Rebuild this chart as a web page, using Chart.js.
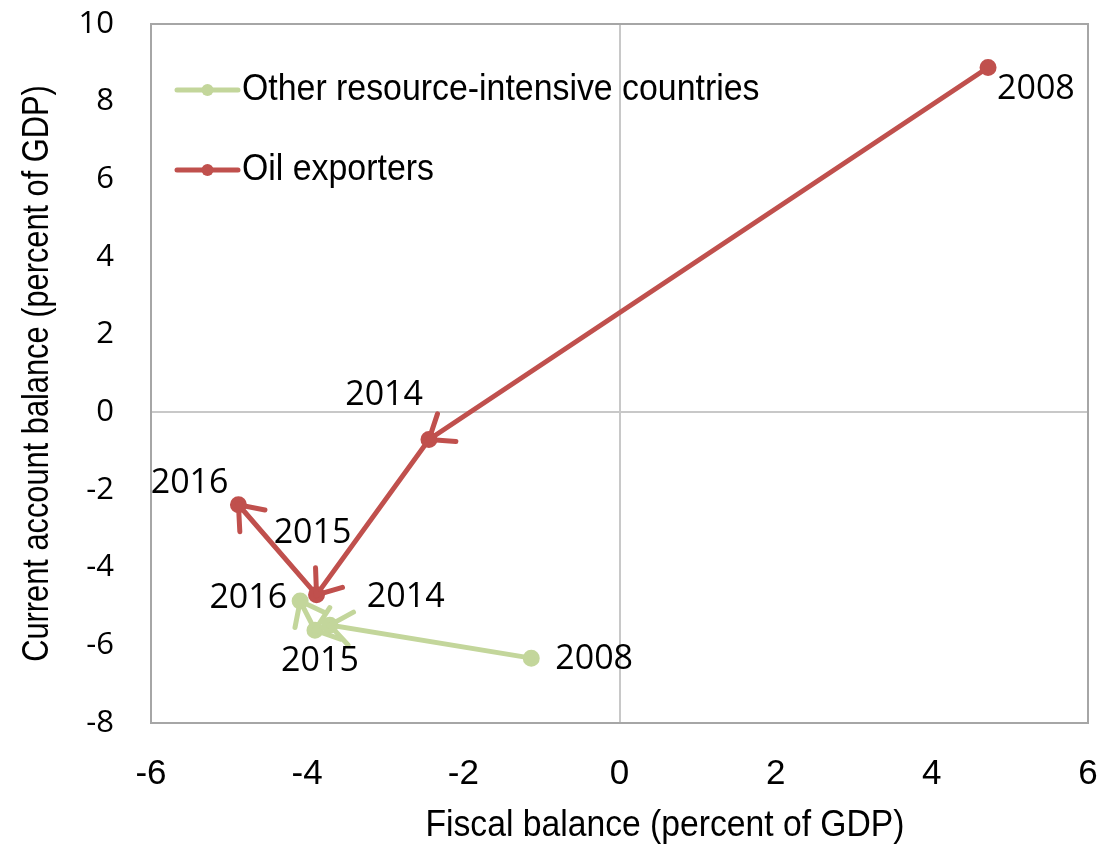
<!DOCTYPE html>
<html>
<head>
<meta charset="utf-8">
<title>Fiscal and current account balances</title>
<script src="https://cdn.jsdelivr.net/npm/chart.js@4/dist/chart.umd.min.js"></script>
<style>
  html, body { margin: 0; padding: 0; background: #ffffff; }
  #wrap { width: 1099px; height: 845px; }
</style>
</head>
<body>
<div id="wrap"><canvas id="chart" width="1099" height="845"></canvas></div>
<script>
// Years shown along each path
const years = ['2008', '2014', '2015', '2016'];

// Oil exporters: fiscal balance (x) and current account balance (y), percent of GDP
const oilFiscal  = [4.72, -2.44, -3.88, -4.88];
const oilCurrent = [8.88, -0.70, -4.70, -2.38];

// Other resource-intensive countries
const otherFiscal  = [-1.13, -3.71, -3.90, -4.09];
const otherCurrent = [-6.33, -5.48, -5.61, -4.86];

// Axis ticks
const xTickValues = [-6, -4, -2, 0, 2, 4, 6];
const yTickValues = [-8, -6, -4, -2, 0, 2, 4, 6, 8, 10];

// Series names and colours
const seriesNames = ['Other resource-intensive countries', 'Oil exporters'];
const seriesColors = ['#c3d69b', '#c0504d'];

// Year-label placement around each point: [dx, dy, align]
const otherLabelPlacement = [[24, 1, 'left'], [37, -28, 'left'], [5, 31, 'center'], [-13, -3, 'right']];
const oilLabelPlacement   = [[9, 22, 'left'], [-6, -44, 'right'], [-4, -62, 'center'], [-10, -21, 'right']];

const toPoints = (xs, ys) => xs.map((x, i) => ({ x: x, y: ys[i] }));

const SANS = '"Liberation Sans", Arial, sans-serif';
const ROUND = '"Open Sans", "DejaVu Sans", sans-serif';

// Text drawn in a horizontally compressed Liberation Sans
function condensedText(ctx, text, x, y, size, squeeze, align) {
  ctx.save();
  ctx.translate(x, y);
  ctx.scale(squeeze, 1);
  ctx.font = size + 'px ' + SANS;
  ctx.textAlign = align;
  ctx.textBaseline = 'middle';
  ctx.fillStyle = '#000000';
  ctx.fillText(text, 0, 0);
  ctx.restore();
}

// Frame around the plotting area
const framePlugin = {
  id: 'frame',
  beforeDatasetsDraw(chart) {
    const { ctx, chartArea: a } = chart;
    ctx.save();
    ctx.strokeStyle = '#a6a6a6';
    ctx.lineWidth = 2;
    ctx.strokeRect(a.left, a.top, a.right - a.left, a.bottom - a.top);
    ctx.restore();
  }
};

// Open arrowheads at the end of every segment, pointing along the path
const arrowPlugin = {
  id: 'arrows',
  afterDatasetsDraw(chart) {
    const { ctx } = chart;
    const xs = chart.scales.x, ys = chart.scales.y;
    chart.data.datasets.forEach((ds) => {
      ctx.save();
      ctx.strokeStyle = ds.borderColor;
      ctx.lineWidth = 5;
      ctx.lineCap = 'round';
      for (let i = 1; i < ds.data.length; i++) {
        const x0 = xs.getPixelForValue(ds.data[i - 1].x), y0 = ys.getPixelForValue(ds.data[i - 1].y);
        const x1 = xs.getPixelForValue(ds.data[i].x), y1 = ys.getPixelForValue(ds.data[i].y);
        const ang = Math.atan2(y1 - y0, x1 - x0);
        const len = 27, spread = 38 * Math.PI / 180;
        ctx.beginPath();
        ctx.moveTo(x1 - len * Math.cos(ang - spread), y1 - len * Math.sin(ang - spread));
        ctx.lineTo(x1, y1);
        ctx.lineTo(x1 - len * Math.cos(ang + spread), y1 - len * Math.sin(ang + spread));
        ctx.stroke();
      }
      ctx.restore();
    });
  }
};

// Year labels beside the points
const yearLabelPlugin = {
  id: 'yearLabels',
  afterDatasetsDraw(chart) {
    const { ctx } = chart;
    const xs = chart.scales.x, ys = chart.scales.y;
    ctx.save();
    ctx.fillStyle = '#000000';
    ctx.font = '34px ' + ROUND;
    ctx.textBaseline = 'middle';
    chart.data.datasets.forEach((ds) => {
      ds.data.forEach((p, i) => {
        const [dx, dy, align] = ds.labelPlacement[i];
        ctx.textAlign = align;
        ctx.fillText(years[i], xs.getPixelForValue(p.x) + dx, ys.getPixelForValue(p.y) + dy);
      });
    });
    ctx.restore();
  }
};

// Legend inside the plot area and the two axis titles
const legendTitlePlugin = {
  id: 'legendTitles',
  afterDraw(chart) {
    const { ctx, chartArea: a } = chart;
    const rows = [1, 0];
    rows.forEach((di, r) => {
      const ds = chart.data.datasets[di];
      const y = a.top + 66 + r * 80;
      const x0 = a.left + 26, x1 = a.left + 87;
      ctx.save();
      ctx.strokeStyle = ds.borderColor;
      ctx.lineWidth = 5;
      ctx.lineCap = 'round';
      ctx.beginPath();
      ctx.moveTo(x0, y);
      ctx.lineTo(x1, y);
      ctx.stroke();
      ctx.fillStyle = ds.borderColor;
      ctx.beginPath();
      ctx.arc((x0 + x1) / 2, y, 6, 0, Math.PI * 2);
      ctx.fill();
      ctx.restore();
      condensedText(ctx, ds.label, x1 + 4, y, 37, 0.915, 'left');
    });
    // x axis title
    condensedText(ctx, 'Fiscal balance (percent of GDP)', 665, 826, 37, 0.91, 'center');
    // y axis title
    ctx.save();
    ctx.translate(38, (a.top + a.bottom) / 2);
    ctx.rotate(-Math.PI / 2);
    condensedText(ctx, 'Current account balance (percent of GDP)', 0, 0, 36, 0.855, 'center');
    ctx.restore();
  }
};

const zeroGrid = (ctx) => (ctx.tick && ctx.tick.value === 0 ? '#c8c8c8' : 'rgba(0,0,0,0)');

new Chart(document.getElementById('chart'), {
  type: 'scatter',
  data: {
    datasets: [
      {
        label: seriesNames[1],
        data: toPoints(oilFiscal, oilCurrent),
        labelPlacement: oilLabelPlacement,
        showLine: true,
        borderColor: seriesColors[1],
        backgroundColor: seriesColors[1],
        borderWidth: 5,
        pointRadius: 6,
        pointHoverRadius: 6,
        tension: 0
      },
      {
        label: seriesNames[0],
        data: toPoints(otherFiscal, otherCurrent),
        labelPlacement: otherLabelPlacement,
        showLine: true,
        borderColor: seriesColors[0],
        backgroundColor: seriesColors[0],
        borderWidth: 5,
        pointRadius: 6,
        pointHoverRadius: 6,
        tension: 0
      }
    ]
  },
  options: {
    responsive: false,
    animation: false,
    devicePixelRatio: 1,
    layout: { padding: { left: 0, top: 24, right: 11, bottom: 0 } },
    plugins: { legend: { display: false }, tooltip: { enabled: false } },
    scales: {
      x: {
        type: 'linear',
        min: -6,
        max: 6,
        afterBuildTicks: (scale) => { scale.ticks = xTickValues.map(v => ({ value: v })); },
        afterFit: (scale) => {
          scale.height = 122;
          scale.paddingLeft = 0; scale.paddingRight = 0;
        },
        border: { display: false },
        grid: { color: zeroGrid, lineWidth: 2, drawTicks: false },
        ticks: { color: '#000000', padding: 30, font: { family: SANS, size: 35 }, maxRotation: 0 }
      },
      y: {
        type: 'linear',
        min: -8,
        max: 10,
        afterBuildTicks: (scale) => { scale.ticks = yTickValues.map(v => ({ value: v })); },
        afterFit: (scale) => {
          scale.width = 151;
          scale.paddingTop = 0; scale.paddingBottom = 0;
        },
        border: { display: false },
        grid: { color: zeroGrid, lineWidth: 2, drawTicks: false },
        ticks: { color: '#000000', padding: 37, font: { family: ROUND, size: 31 } }
      }
    }
  },
  plugins: [framePlugin, arrowPlugin, yearLabelPlugin, legendTitlePlugin]
});
</script>
</body>
</html>
